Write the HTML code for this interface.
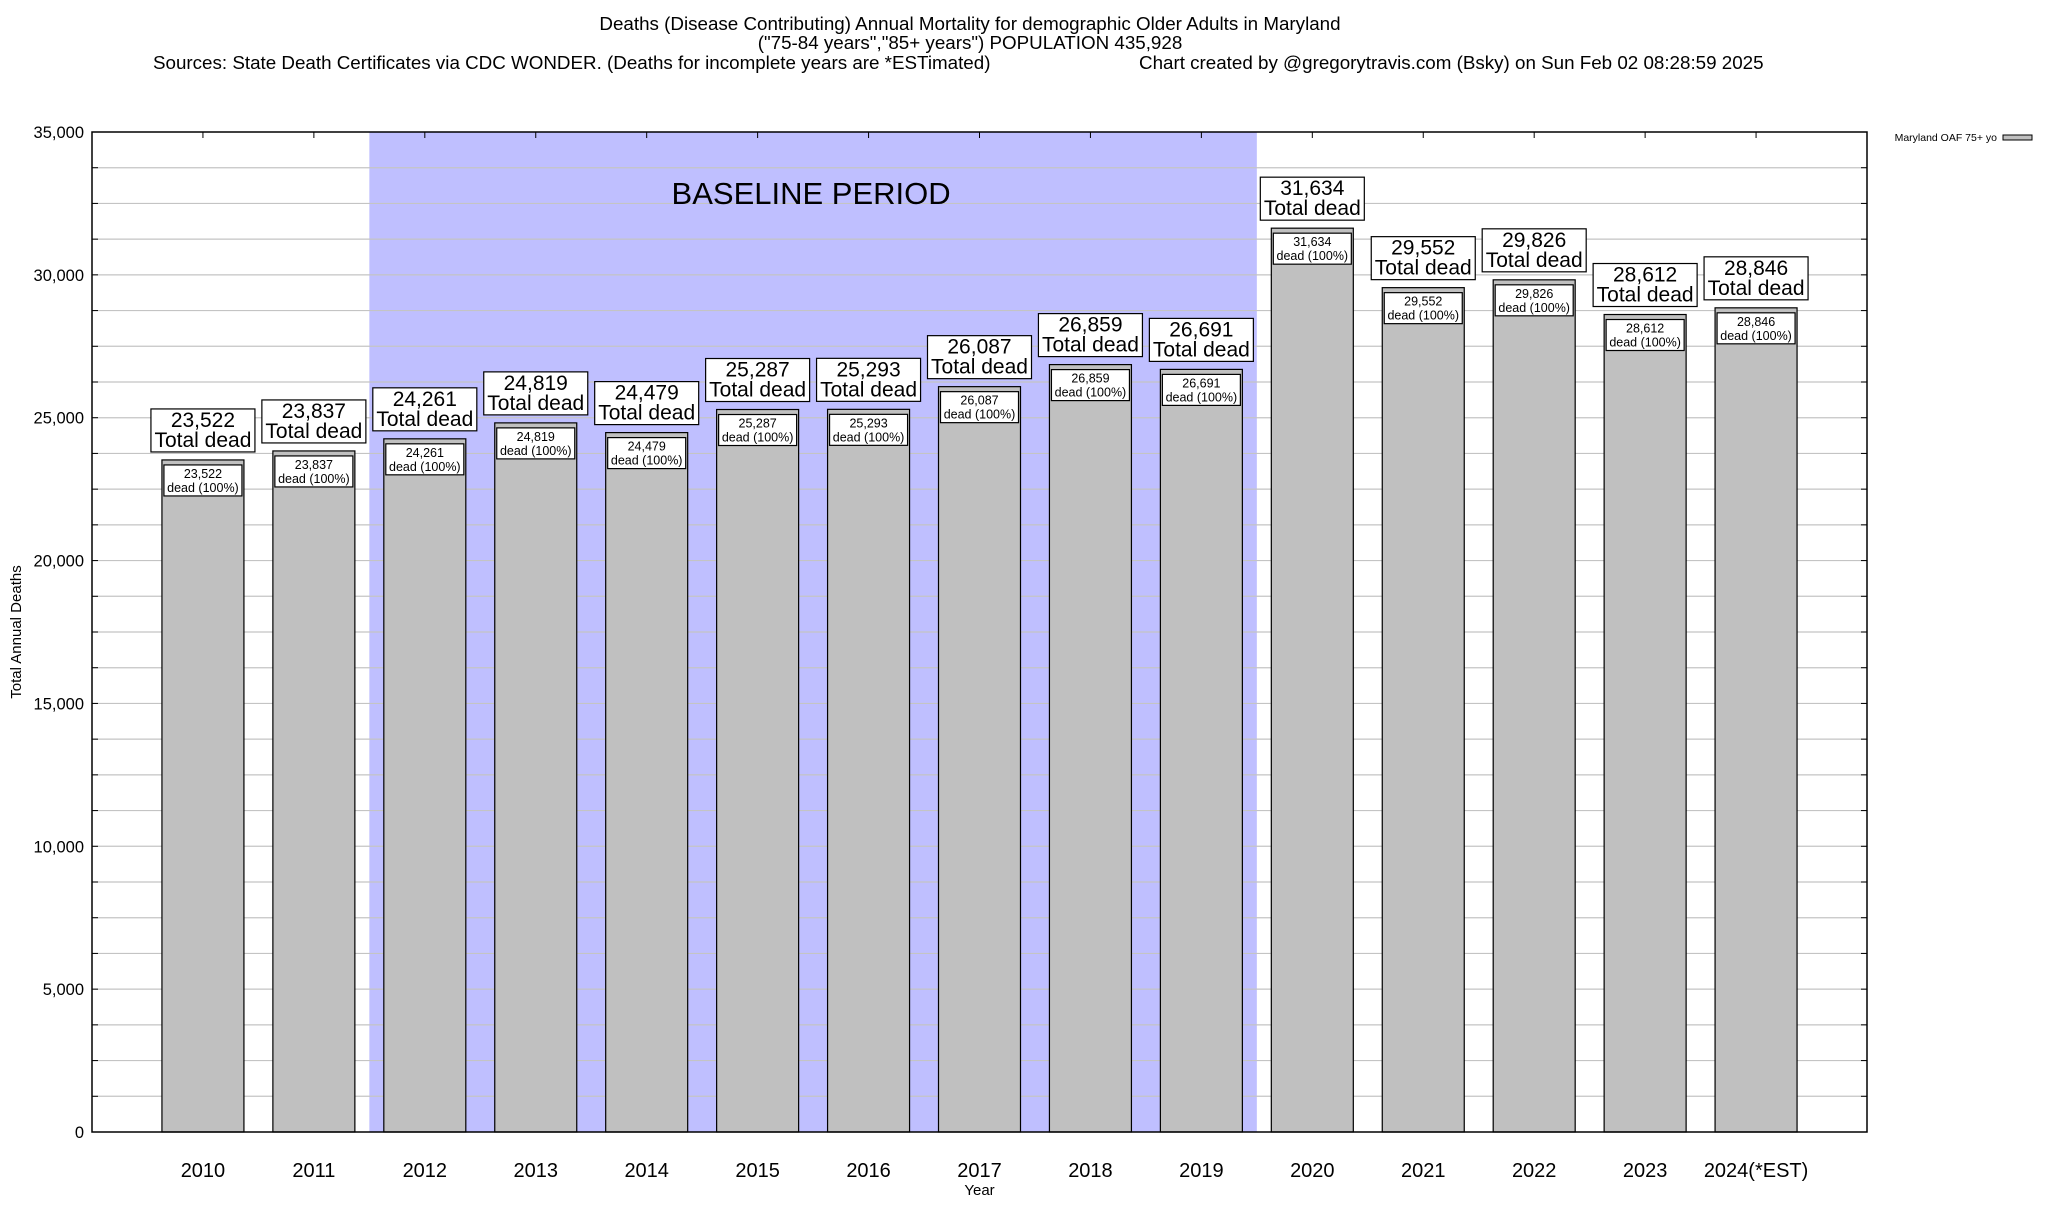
<!DOCTYPE html>
<html><head><meta charset="utf-8"><style>
html,body{margin:0;padding:0;background:#fff;}
svg text{font-family:"Liberation Sans",Arial,sans-serif;}
</style></head><body>
<svg id="chart" width="2048" height="1200" viewBox="0 0 2048 1200" xmlns="http://www.w3.org/2000/svg">
<g font-size="18.8" fill="#000">
<text x="970" y="30" text-anchor="middle">Deaths (Disease Contributing) Annual Mortality for demographic Older Adults in Maryland</text>
<text x="970" y="49" text-anchor="middle">("75-84 years","85+ years") POPULATION 435,928</text>
<text x="153" y="69">Sources: State Death Certificates via CDC WONDER. (Deaths for incomplete years are *ESTimated)</text>
<text x="1139" y="69">Chart created by @gregorytravis.com (Bsky) on Sun Feb 02 08:28:59 2025</text>
</g>
<g id="plot"></g>
<g>
<text x="1997" y="141" font-size="10.5" text-anchor="end">Maryland OAF 75+ yo</text>
<rect x="2003" y="135" width="29" height="5" fill="#c0c0c0" stroke="#000" stroke-width="1"/>
</g>
</svg>
<script>
const categories=["2010","2011","2012","2013","2014","2015","2016","2017","2018","2019","2020","2021","2022","2023","2024(*EST)"];
const deaths=[23522,23837,24261,24819,24479,25287,25293,26087,26859,26691,31634,29552,29826,28612,28846];
const yTicks=[0,5000,10000,15000,20000,25000,30000,35000];
const baselineStart=2, baselineEnd=9;

const L=92,R=1867,T=132,B=1132,yMax=35000;
const step=(R-L)/(categories.length+1);
const xC=i=>L+(i+1)*step;
const y=v=>B-(v/yMax)*(B-T);
const NS="http://www.w3.org/2000/svg";
const g=document.getElementById('plot');
function mk(tag,attrs,parent){const e=document.createElementNS(NS,tag);for(const k in attrs)e.setAttribute(k,attrs[k]);(parent||g).appendChild(e);return e;}
const fmt=v=>v.toLocaleString('en-US');

// baseline shading
const bs=mk('rect',{x:xC(baselineStart)-step/2,y:T,width:(baselineEnd-baselineStart+1)*step,height:B-T,fill:'#bfbfff'});



// gridlines
for(let v=1250;v<yMax;v+=1250){
  const gl=mk('line',{x1:L,x2:R,y1:y(v),y2:y(v),stroke:'#c4c4c4','stroke-width':1.2});
  
  
  mk('line',{x1:L,x2:L+6,y1:y(v),y2:y(v),stroke:'#000','stroke-width':1});
  mk('line',{x1:R-6,x2:R,y1:y(v),y2:y(v),stroke:'#000','stroke-width':1});
}
const bt=mk('text',{x:(xC(baselineStart)+xC(baselineEnd))/2-2,y:204,'font-size':31,'text-anchor':'middle'});
bt.textContent='BASELINE PERIOD';


// y tick labels
yTicks.forEach(v=>{
  const t=mk('text',{x:84,y:y(v)+6,'font-size':16.5,'text-anchor':'end'});
  t.textContent=fmt(v);
  
  
});
// bars
const bw=82;
deaths.forEach((v,i)=>{
  const cx=xC(i),top=y(v);
  const b=mk('rect',{x:cx-bw/2,y:top,width:bw,height:B-top,fill:'#c0c0c0',stroke:'#000','stroke-width':1.2});
  
  
  const ib=mk('rect',{x:cx-bw/2+2,y:top+5,width:bw-4,height:31,fill:'#fff',stroke:'#000','stroke-width':1.2});
  
  
  const t1=mk('text',{x:cx,y:top+18,'font-size':12.5,'text-anchor':'middle'});t1.textContent=fmt(v);
  
  
  const t2=mk('text',{x:cx,y:top+32,'font-size':12.5,'text-anchor':'middle'});t2.textContent='dead (100%)';
  
  
  const ob=mk('rect',{x:cx-52,y:top-51,width:104,height:43,fill:'#fff',stroke:'#000','stroke-width':1.2});
  
  
  const t3=mk('text',{x:cx,y:top-33,'font-size':21,'text-anchor':'middle'});t3.textContent=fmt(v);
  
  
  const t4=mk('text',{x:cx,y:top-13,'font-size':21,'text-anchor':'middle'});t4.textContent='Total dead';
  
  
  mk('line',{x1:cx,x2:cx,y1:T,y2:T+6,stroke:'#000','stroke-width':1});
  const xl=mk('text',{x:cx,y:1177,'font-size':20,'text-anchor':'middle'});xl.textContent=categories[i];
  
  
});
// frame
const fr=mk('rect',{x:L,y:T,width:R-L,height:B-T,fill:'none',stroke:'#000','stroke-width':1.5});


const xt=mk('text',{x:(L+R)/2,y:1195,'font-size':15,'text-anchor':'middle'});xt.textContent='Year';


const yt=mk('text',{x:0,y:0,'font-size':15,'text-anchor':'middle',transform:'translate(21,632) rotate(-90)'});yt.textContent='Total Annual Deaths';


</script>
</body></html>
